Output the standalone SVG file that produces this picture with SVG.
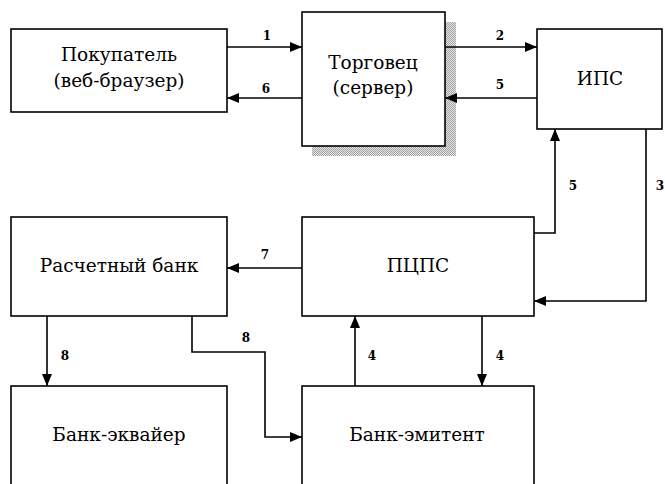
<svg xmlns="http://www.w3.org/2000/svg" width="665" height="484" viewBox="0 0 665 484">
<style>
.box{fill:#fff;stroke:#000;stroke-width:1.6}
text{font-family:'DejaVu Serif','Liberation Serif',serif;fill:#000;text-anchor:middle}
.t{font-size:18.5px}
.n{font-size:12px;font-weight:bold}
.c{fill:none;stroke:#000;stroke-width:1.6}
</style>
<defs>
<pattern id="dots" width="2" height="2" patternUnits="userSpaceOnUse">
<rect width="2" height="2" fill="#e8e8e8"/>
<rect width="1" height="1" fill="#a0a0a0"/>
<rect x="1" y="1" width="1" height="1" fill="#a0a0a0"/>
</pattern>
<marker id="a" markerUnits="userSpaceOnUse" markerWidth="12" markerHeight="12" viewBox="0 0 12 12" refX="12" refY="6" orient="auto">
<path d="M0,1 L12,6 L0,11 Z" fill="#000"/>
</marker>
</defs>
<rect width="665" height="484" fill="#fff"/>

<g id="buyer">
<rect class="box" x="11" y="29" width="216" height="83"/>
<text class="t" x="119" y="61">Покупатель</text>
<text class="t" x="119" y="87">(веб-браузер)</text>
</g>
<g id="merchant">
<rect x="312" y="22" width="144" height="134" fill="url(#dots)"/>
<rect class="box" x="302" y="12" width="143" height="134"/>
<text class="t" x="373" y="69">Торговец</text>
<text class="t" x="373" y="94">(сервер)</text>
</g>
<g id="ips">
<rect class="box" x="537" y="29" width="125" height="100"/>
<text class="t" x="600" y="85">ИПС</text>
</g>
<g id="settlement">
<rect class="box" x="11" y="217" width="216" height="99"/>
<text class="t" x="119" y="272">Расчетный банк</text>
</g>
<g id="pcps">
<rect class="box" x="302" y="217" width="232" height="99"/>
<text class="t" x="418" y="272">ПЦПС</text>
</g>
<g id="acquirer">
<rect class="box" x="11" y="386" width="216" height="110"/>
<text class="t" x="119" y="441">Банк-эквайер</text>
</g>
<g id="issuer">
<rect class="box" x="302" y="386" width="232" height="110"/>
<text class="t" x="417" y="441">Банк-эмитент</text>
</g>

<g id="connectors">
<path class="c" d="M227,47 H302" marker-end="url(#a)"/>
<path class="c" d="M302,98 H227" marker-end="url(#a)"/>
<path class="c" d="M445,47 H537" marker-end="url(#a)"/>
<path class="c" d="M537,98 H445" marker-end="url(#a)"/>
<path class="c" d="M534,233 H555 V129" marker-end="url(#a)"/>
<path class="c" d="M646,129 V301 H534" marker-end="url(#a)"/>
<path class="c" d="M302,268 H227" marker-end="url(#a)"/>
<path class="c" d="M47,316 V386" marker-end="url(#a)"/>
<path class="c" d="M192,316 V352 H265 V437 H302" marker-end="url(#a)"/>
<path class="c" d="M355,386 V316" marker-end="url(#a)"/>
<path class="c" d="M482,316 V386" marker-end="url(#a)"/>
<text class="n" x="267" y="40">1</text>
<text class="n" x="266" y="93">6</text>
<text class="n" x="500" y="40">2</text>
<text class="n" x="500" y="89">5</text>
<text class="n" x="573" y="190">5</text>
<text class="n" x="660" y="190">3</text>
<text class="n" x="265" y="259">7</text>
<text class="n" x="65" y="360">8</text>
<text class="n" x="246" y="342">8</text>
<text class="n" x="372" y="360">4</text>
<text class="n" x="500" y="360">4</text>
</g>
</svg>
